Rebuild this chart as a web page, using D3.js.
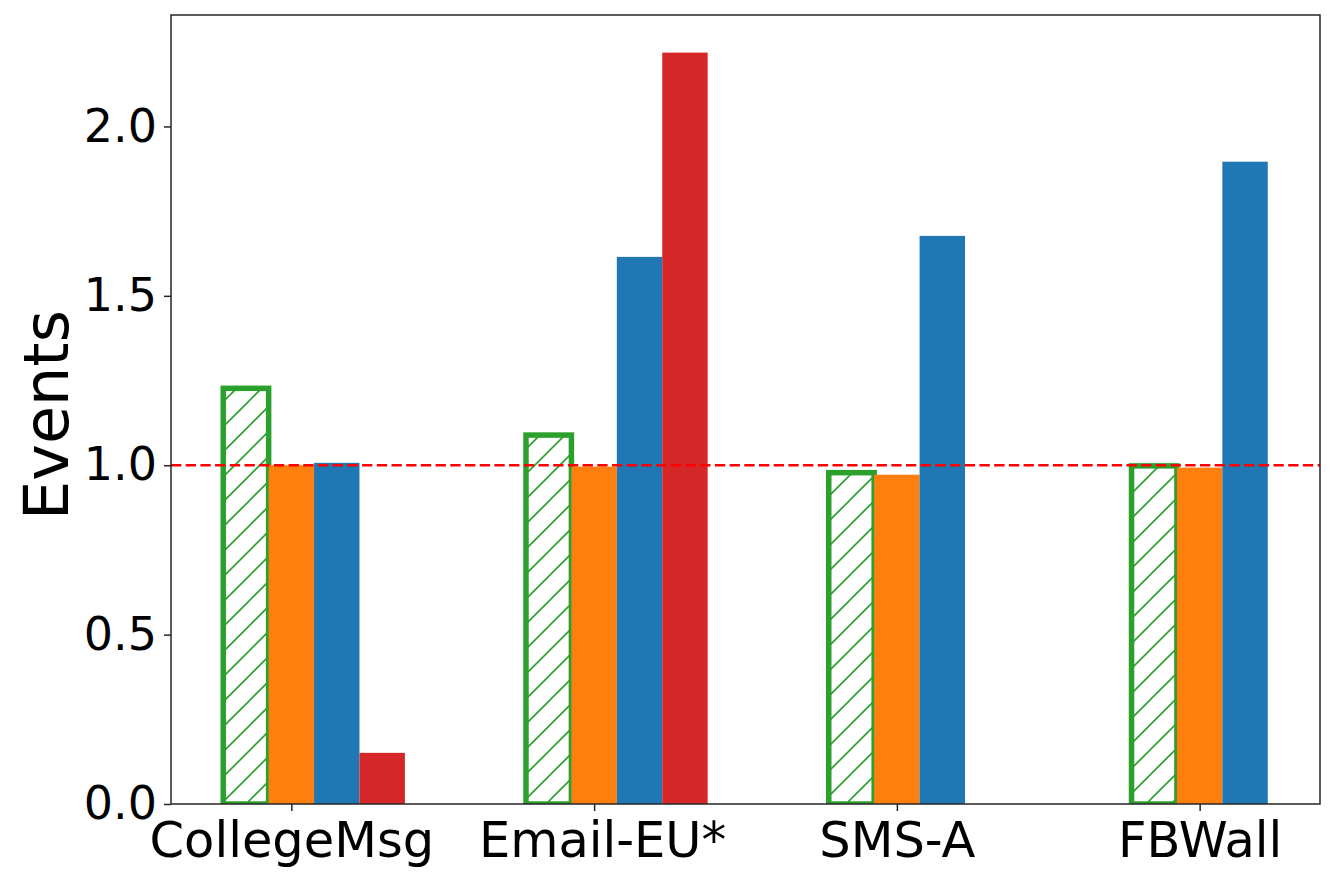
<!DOCTYPE html>
<html>
<head>
<meta charset="utf-8">
<script src="https://cdn.jsdelivr.net/npm/d3@7"></script>
<style>
  body { margin: 0; background: #fff; }
  svg { display: block; font-family: "DejaVu Sans", sans-serif; }
</style>
</head>
<body>
<svg id="chart" width="1334" height="883"></svg>
<script>
// data
var datasets = ['CollegeMsg', 'Email-EU*', 'SMS-A', 'FBWall'],
    greenVals  = [1.227, 1.089, 0.978, 0.998],
    orangeVals = [1.000, 0.996, 0.972, 0.993],
    blueVals   = [1.007, 1.615, 1.677, 1.896],
    redVals    = [0.151, 2.218, null, null],
    yTicks = [0.0, 0.5, 1.0, 1.5, 2.0],
    refLine = 1.0;

var svg = d3.select('#chart'),
    plotL = 171, plotR = 1320, plotT = 15, plotB = 804,
    barW = 0.15;

var x = d3.scaleLinear().domain([-0.3975, 3.3975]).range([plotL, plotR]),
    y = d3.scaleLinear().domain([0, 2.329]).range([plotB, plotT]),
    wPx = x(barW) - x(0);

// hatch pattern for the outlined bars
var defs = svg.append('defs');
var pat = defs.append('pattern')
    .attr('id', 'hatch')
    .attr('patternUnits', 'userSpaceOnUse')
    .attr('width', 25).attr('height', 25);
pat.append('rect').attr('width', 25).attr('height', 25).attr('fill', '#fff');
pat.append('path')
    .attr('d', 'M-5,5 L5,-5 M0,25 L25,0 M20,30 L30,20')
    .attr('stroke', '#2ca02c').attr('stroke-width', 1.6);

defs.append('clipPath').attr('id', 'plotclip')
    .append('rect').attr('x', plotL).attr('y', plotT)
    .attr('width', plotR - plotL).attr('height', plotB - plotT);

var series = [
    { vals: greenVals, off: -1, fill: 'url(#hatch)', stroke: '#2ca02c' },
    { vals: orangeVals, off: 0, fill: '#ff7f0e' },
    { vals: blueVals, off: 1, fill: '#1f77b4' },
    { vals: redVals, off: 2, fill: '#d62728' }
];

var plot = svg.append('g').attr('clip-path', 'url(#plotclip)');

series.forEach(function (s) {
    var rows = s.vals.map(function (v, i) { return { i: i, v: v }; })
        .filter(function (d) { return d.v !== null; });
    plot.selectAll(null)
        .data(rows)
        .enter().append('rect')
        .attr('x', function (d) { return x(d.i + s.off * barW - barW / 2); })
        .attr('width', wPx)
        .attr('y', function (d) { return y(d.v); })
        .attr('height', function (d) { return y(0) - y(d.v); })
        .attr('fill', s.fill)
        .attr('stroke', s.stroke || 'none')
        .attr('stroke-width', s.stroke ? 5.5 : 0);
});

// reference line
plot.append('line')
    .attr('x1', plotL).attr('x2', plotR)
    .attr('y1', y(refLine)).attr('y2', y(refLine))
    .attr('stroke', '#ff0000')
    .attr('stroke-width', 2.7)
    .attr('stroke-dasharray', '10.3,4.4');

// frame
svg.append('rect')
    .attr('x', plotL).attr('y', plotT)
    .attr('width', plotR - plotL).attr('height', plotB - plotT)
    .attr('fill', 'none').attr('stroke', '#262626').attr('stroke-width', 1.5);

// axes
var yAxis = svg.append('g')
    .attr('transform', 'translate(' + plotL + ',0)')
    .call(d3.axisLeft(y).tickValues(yTicks).tickFormat(d3.format('.1f'))
        .tickSize(7).tickPadding(7));
yAxis.select('.domain').remove();
yAxis.selectAll('line').attr('stroke', '#262626').attr('stroke-width', 1.5);
yAxis.selectAll('text').attr('font-size', 46).attr('fill', '#000')
    .attr('font-family', '"DejaVu Sans", sans-serif');

var xAxis = svg.append('g')
    .attr('transform', 'translate(0,' + plotB + ')')
    .call(d3.axisBottom(x).tickValues(d3.range(datasets.length))
        .tickFormat(function (d) { return datasets[d]; })
        .tickSize(7).tickPadding(11));
xAxis.select('.domain').remove();
xAxis.selectAll('line').attr('stroke', '#262626').attr('stroke-width', 1.5);
xAxis.selectAll('text').attr('font-size', 49.5).attr('fill', '#000')
    .attr('font-family', '"DejaVu Sans", sans-serif')
    .attr('dx', function (d) { return d === 1 ? 8 : 0; });

svg.append('text')
    .attr('transform', 'translate(68,415) rotate(-90)')
    .attr('text-anchor', 'middle')
    .attr('font-size', 62)
    .attr('fill', '#000')
    .text('Events');
</script>
</body>
</html>
